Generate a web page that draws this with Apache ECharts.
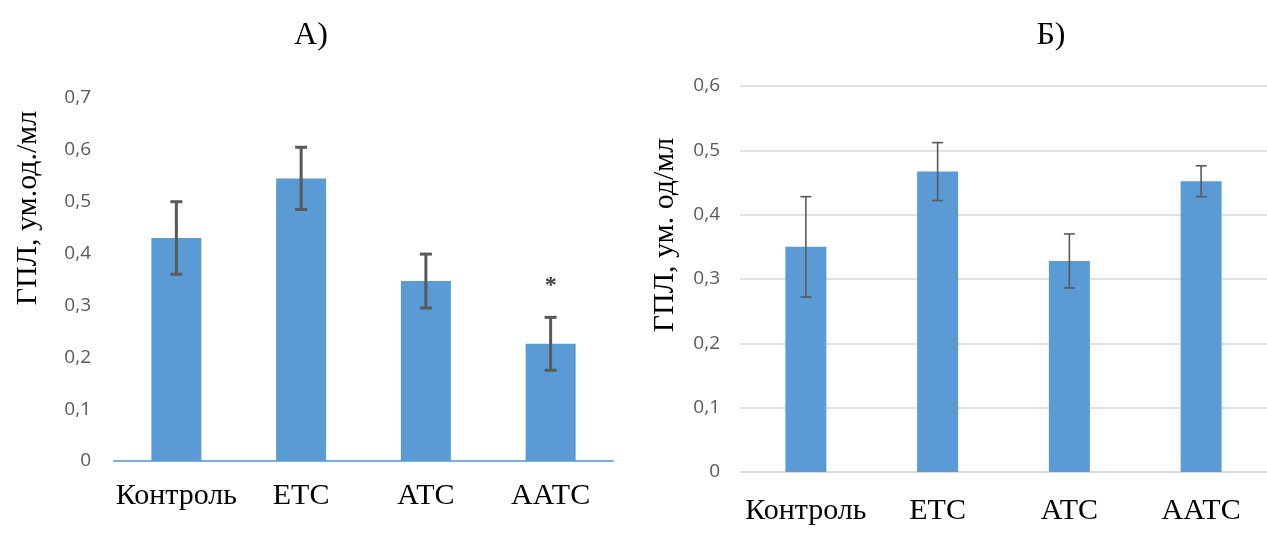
<!DOCTYPE html>
<html><head><meta charset="utf-8">
<script src="https://cdn.jsdelivr.net/npm/echarts@6/dist/echarts.min.js"></script>
<style>html,body{margin:0;padding:0;background:#fff}#c{width:1267px;height:534px}</style>
</head><body><div id="c"></div>
<script>
const categories = ['Контроль', 'ЕТС', 'АТС', 'ААТС'];
const valuesA = [0.43, 0.545, 0.347, 0.226];
const errorsA = [0.07, 0.06, 0.052, 0.051];
const starsA = ['', '', '', '*'];
const valuesB = [0.35, 0.467, 0.328, 0.452];
const errorsB = [0.078, 0.045, 0.042, 0.024];
const ticksA = [0, 0.1, 0.2, 0.3, 0.4, 0.5, 0.6, 0.7];
const ticksB = [0, 0.1, 0.2, 0.3, 0.4, 0.5, 0.6];
const titleA = 'А)';
const titleB = 'Б)';
const yNameA = 'ГПЛ, ум.од./мл';
const yNameB = 'ГПЛ, ум. од/мл';

const BAR = '#5b9bd5';
const fmt = v => String(Math.round(v * 10) / 10).replace('.', ',');

function errItem(vals, errs, stars, half, lw) {
  return function (params, api) {
    const i = params.dataIndex;
    const hi = api.coord([i, vals[i] + errs[i]]);
    const lo = api.coord([i, vals[i] - errs[i]]);
    const x = hi[0];
    const st = { stroke: '#595959', lineWidth: lw };
    const children = [
      { type: 'line', shape: { x1: x, y1: hi[1], x2: x, y2: lo[1] }, style: st },
      { type: 'line', shape: { x1: x - half, y1: hi[1], x2: x + half, y2: hi[1] }, style: st },
      { type: 'line', shape: { x1: x - half, y1: lo[1], x2: x + half, y2: lo[1] }, style: st }
    ];
    if (stars && stars[i]) {
      children.push({ type: 'text', style: { text: stars[i], x: x, y: hi[1] - 32, align: 'center', verticalAlign: 'middle', font: 'bold 24px "Liberation Serif"', fill: '#404040' } });
    }
    return { type: 'group', children };
  };
}

const serif = '"Liberation Serif", "Times New Roman", serif';
const chart = echarts.init(document.getElementById('c'), null, { renderer: 'canvas' });
chart.setOption({
  animation: false,
  backgroundColor: '#fff',
  title: [
    { text: titleA, left: 306, top: 15, textAlign: 'center', textStyle: { fontFamily: serif, fontSize: 32, fontWeight: 'normal', color: '#000' } },
    { text: titleB, left: 1046, top: 15, textAlign: 'center', textStyle: { fontFamily: serif, fontSize: 32, fontWeight: 'normal', color: '#000' } }
  ],
  graphic: [
    { type: 'text', x: 28, y: 208, rotation: Math.PI / 2, style: { text: yNameA, font: '30px ' + serif, fill: '#000', align: 'center', verticalAlign: 'middle' } },
    { type: 'text', x: 665, y: 235, rotation: Math.PI / 2, style: { text: yNameB, font: '30px ' + serif, fill: '#000', align: 'center', verticalAlign: 'middle' } }
  ],
  grid: [
    { left: 114, top: 98, width: 499, height: 363 },
    { left: 740, top: 86, width: 532, height: 386 }
  ],
  xAxis: [
    { type: 'category', gridIndex: 0, data: categories, axisTick: { show: false },
      axisLine: { lineStyle: { color: '#7aaee0', width: 2 } },
      axisLabel: { margin: 20, fontFamily: serif, fontSize: 30, color: '#000', interval: 0 } },
    { type: 'category', gridIndex: 1, data: categories, axisTick: { show: false },
      axisLine: { lineStyle: { color: '#d9d9d9', width: 1.5 } },
      axisLabel: { margin: 24, fontFamily: serif, fontSize: 30, color: '#000', interval: 0 } }
  ],
  yAxis: [
    { type: 'value', gridIndex: 0, min: 0, max: 0.7, interval: 0.1,
      axisLine: { show: false }, axisTick: { show: false }, splitLine: { show: false },
      axisLabel: { margin: 23, fontFamily: 'Open Sans', fontSize: 19, color: '#595959', formatter: fmt } },
    { type: 'value', gridIndex: 1, min: 0, max: 0.6, interval: 0.1,
      axisLine: { show: false }, axisTick: { show: false },
      splitLine: { lineStyle: { color: '#d9d9d9', width: 1.5 } },
      axisLabel: { margin: 20, fontFamily: 'Open Sans', fontSize: 19, color: '#595959', formatter: fmt } }
  ],
  series: [
    { type: 'bar', xAxisIndex: 0, yAxisIndex: 0, data: valuesA, barWidth: 50, itemStyle: { color: BAR } },
    { type: 'custom', xAxisIndex: 0, yAxisIndex: 0, data: valuesA.map((v, i) => [i, v]), renderItem: errItem(valuesA, errorsA, starsA, 6, 3), z: 10 },
    { type: 'bar', xAxisIndex: 1, yAxisIndex: 1, data: valuesB, barWidth: 41, itemStyle: { color: BAR } },
    { type: 'custom', xAxisIndex: 1, yAxisIndex: 1, data: valuesB.map((v, i) => [i, v]), renderItem: errItem(valuesB, errorsB, null, 5.5, 1.6), z: 10 }
  ]
});
</script></body></html>
